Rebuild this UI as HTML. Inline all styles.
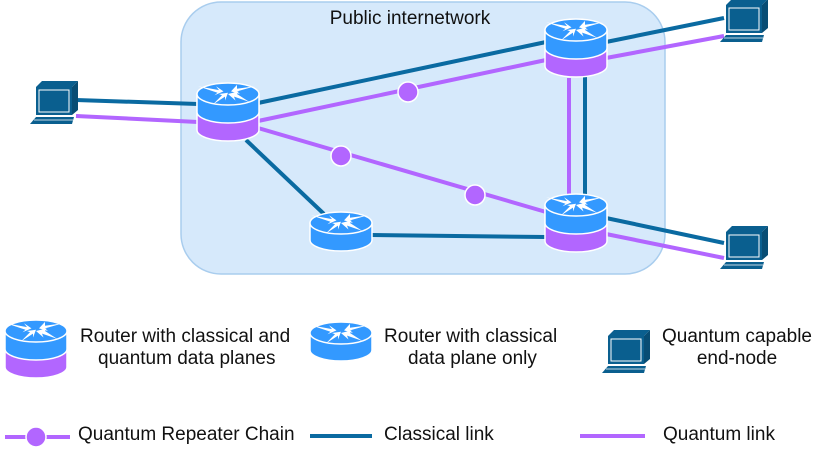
<!DOCTYPE html>
<html><head><style>body{margin:0;background:#fff}svg{display:block}text{font-family:"Liberation Sans",sans-serif;fill:#111}</style></head>
<body>
<svg width="830" height="462" viewBox="0 0 830 462" xmlns="http://www.w3.org/2000/svg">
<defs>
<g id="arrows" fill="#fff" transform="scale(1.5,1.3)">
 <path d="M-20,-6 L-6,-3 L-8,-6 L-3,-2 L-9,1 L-7,-1 Z"/>
 <path d="M18,-6 L6,-2 L8,0 L2,-2 L6,-7 L6,-4 Z"/>
 <path d="M-10,8 L-2,2 L-2,5 L0,-1 L-6,0 L-4,1 Z"/>
 <path d="M14,6 L4,2 L5,5 L0,0 L7,-2 L6,0 Z"/>
</g>
<g id="qr">
 <path d="M-31,0 V36 A31,11 0 0 0 31,36 V0 Z" fill="#b266ff" stroke="#fff" stroke-width="1.5"/>
 <path d="M-31,0 V18 A31,11 0 0 0 31,18 V0 Z" fill="#3399ff" stroke="#fff" stroke-width="1.5"/>
 <ellipse cx="0" cy="0" rx="31" ry="11" fill="#3399ff" stroke="#fff" stroke-width="1.5"/>
 <use href="#arrows"/>
</g>
<g id="cr">
 <path d="M-31,0 V17 A31,11 0 0 0 31,17 V0 Z" fill="#3399ff" stroke="#fff" stroke-width="1.5"/>
 <ellipse cx="0" cy="0" rx="31" ry="11" fill="#3399ff" stroke="#fff" stroke-width="1.5"/>
 <use href="#arrows"/>
</g>
<g id="pc">
 <path d="M-16,-16 L-10,-22 L26,-22 L20,-16 Z" fill="#0a5f8f"/>
 <path d="M20,-16 L26,-22 L26,7 L20,12 Z" fill="#084d74"/>
 <rect x="-16" y="-16" width="36" height="28" fill="#0a5f8f"/>
 <rect x="-13" y="-13" width="30" height="22" fill="none" stroke="#fff" stroke-width="1"/>
 <path d="M-16,14 L22,14 L20,21 L-22,21 Z" fill="#0a5f8f"/>
 <line x1="-18" y1="17" x2="21" y2="17" stroke="#fff" stroke-width="0.8"/>
</g>
</defs>
<rect x="181" y="2" width="484" height="272" rx="40" fill="#d6e9fb" stroke="#a9cdee" stroke-width="1.5"/>
<text x="410" y="24" font-size="19" text-anchor="middle">Public internetwork</text>
<g stroke-width="4" fill="none">
 <line x1="76" y1="100" x2="198" y2="104" stroke="#0a6aa1"/>
 <line x1="76" y1="116" x2="198" y2="122" stroke="#b266ff"/>
 <line x1="258" y1="103" x2="546" y2="42" stroke="#0a6aa1"/>
 <line x1="258" y1="121" x2="546" y2="60" stroke="#b266ff"/>
 <line x1="258" y1="128" x2="546" y2="212" stroke="#b266ff"/>
 <line x1="246" y1="140" x2="324" y2="214" stroke="#0a6aa1"/>
 <line x1="372" y1="235" x2="546" y2="237" stroke="#0a6aa1"/>
 <line x1="585" y1="70" x2="585" y2="196" stroke="#0a6aa1"/>
 <line x1="569" y1="78" x2="569" y2="196" stroke="#b266ff"/>
 <line x1="606" y1="42" x2="724" y2="18" stroke="#0a6aa1"/>
 <line x1="606" y1="58" x2="724" y2="36" stroke="#b266ff"/>
 <line x1="606" y1="218" x2="724" y2="243" stroke="#0a6aa1"/>
 <line x1="606" y1="234" x2="724" y2="258" stroke="#b266ff"/>
</g>
<g fill="#b266ff" stroke="#fff" stroke-width="1.5">
 <circle cx="408" cy="92" r="10"/><circle cx="341" cy="156" r="10"/><circle cx="475" cy="195" r="10"/>
</g>
<use href="#qr" x="228" y="94"/>
<use href="#qr" x="576" y="30"/>
<use href="#qr" x="576" y="205"/>
<use href="#cr" x="341" y="223"/>
<use href="#pc" x="52" y="103"/>
<use href="#pc" x="742" y="21"/>
<use href="#pc" x="742" y="248"/>
<use href="#qr" x="36" y="331"/>
<text x="80" y="342" font-size="19">Router with classical and</text>
<text x="98" y="364" font-size="19">quantum data planes</text>
<use href="#cr" x="341" y="333"/>
<text x="384" y="342" font-size="19">Router with classical</text>
<text x="408" y="364" font-size="19">data plane only</text>
<use href="#pc" x="624" y="352"/>
<text x="737" y="342" font-size="19" text-anchor="middle">Quantum capable</text>
<text x="737" y="364" font-size="19" text-anchor="middle">end-node</text>
<line x1="5" y1="437" x2="70" y2="437" stroke="#b266ff" stroke-width="4"/>
<circle cx="36" cy="437" r="10" fill="#b266ff" stroke="#fff" stroke-width="1.5"/>
<text x="78" y="440" font-size="19">Quantum Repeater Chain</text>
<line x1="310" y1="436" x2="372" y2="436" stroke="#0a6aa1" stroke-width="4"/>
<text x="384" y="440" font-size="19">Classical link</text>
<line x1="580" y1="436" x2="645" y2="436" stroke="#b266ff" stroke-width="4"/>
<text x="663" y="440" font-size="19">Quantum link</text>
</svg>
</body></html>
